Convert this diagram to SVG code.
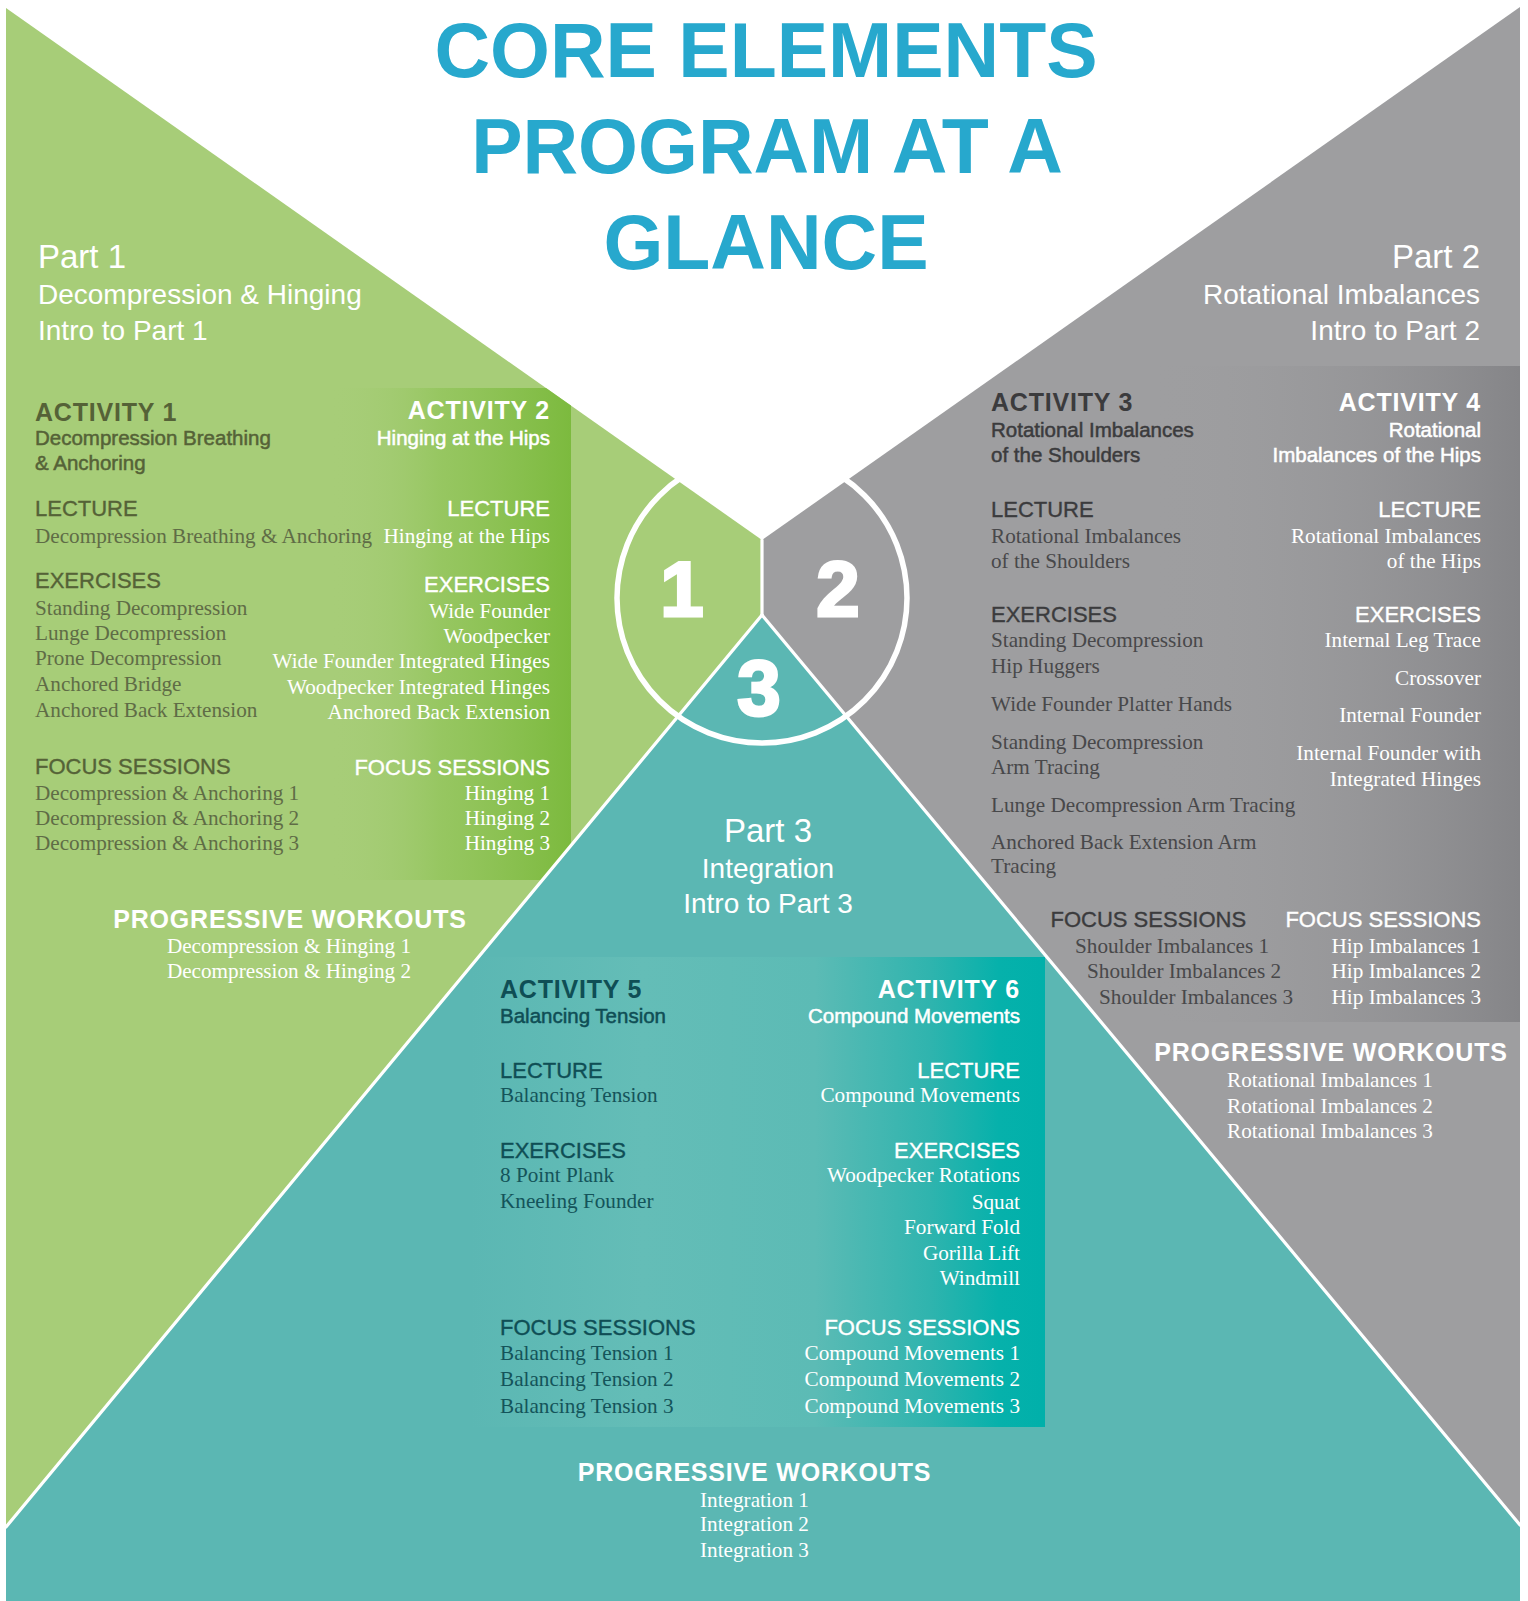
<svg xmlns="http://www.w3.org/2000/svg" width="1528" height="1601" viewBox="0 0 1528 1601">
  <style>
    text { font-family: "Liberation Sans", Arial, sans-serif; }
    .title { font-weight: bold; font-size: 77px; fill: #27a8cd; text-anchor: middle; }
    .part { font-size: 33px; fill: #ffffff; }
    .psub { font-size: 28px; fill: #ffffff; }
    .h { font-weight: bold; font-size: 25px; letter-spacing: 0.8px; }
    .sub { font-size: 20.5px; }
    .lbl { font-size: 22px; }
    .s { font-family: "Liberation Serif", "Times New Roman", serif; font-size: 21.2px; }
    .end { text-anchor: end; }
    .mid { text-anchor: middle; }
    .w { fill: #ffffff; stroke: #ffffff; stroke-width: 0; }
    .gd { fill: #556237; stroke: #556237; stroke-width: 0; }
    .gs { fill: #5f6c46; }
    .kd { fill: #3b3b3d; stroke: #3b3b3d; stroke-width: 0; }
    .ks { fill: #48484a; }
    .td { fill: #0f4e55; stroke: #0f4e55; stroke-width: 0; }
    .ts { fill: #14545a; }
    .sub.w, .sub.gd, .sub.kd, .sub.td { stroke-width: 0.5px; }
    .lbl.w, .lbl.gd, .lbl.kd, .lbl.td { stroke-width: 0.35px; }
    .num { font-weight: bold; font-size: 78px; fill: #ffffff; stroke: #ffffff; stroke-width: 3px; text-anchor: middle; }
    .divider { stroke: #ffffff; stroke-width: 3.2px; fill: none; stroke-linecap: round; }
  </style>
  <defs>
    <clipPath id="clipGreen"><polygon points="6,8 762,540 762,615 6,1527"/></clipPath>
    <clipPath id="clipGrey"><polygon points="1520,7 762,540 762,615 1520,1525"/></clipPath>
    <clipPath id="clipTeal"><polygon points="762,615 6,1527 6,1601 1520,1601 1520,1525"/></clipPath>
    <linearGradient id="gradGreen" x1="330" y1="0" x2="571" y2="0" gradientUnits="userSpaceOnUse">
      <stop offset="0" stop-color="#a7cd78" stop-opacity="0"/>
      <stop offset="0.45" stop-color="#93c55c" stop-opacity="0.8"/>
      <stop offset="1" stop-color="#7cba3e"/>
    </linearGradient>
    <linearGradient id="gradGrey" x1="1150" y1="0" x2="1520" y2="0" gradientUnits="userSpaceOnUse">
      <stop offset="0" stop-color="#9e9ea0" stop-opacity="0"/>
      <stop offset="1" stop-color="#858588"/>
    </linearGradient>
    <linearGradient id="gradTeal" x1="470" y1="0" x2="1045" y2="0" gradientUnits="userSpaceOnUse">
      <stop offset="0" stop-color="#5bb7b3"/>
      <stop offset="0.3" stop-color="#64bdb7"/>
      <stop offset="0.6" stop-color="#5cbbb5"/>
      <stop offset="0.8" stop-color="#2fb4ae"/>
      <stop offset="0.92" stop-color="#06b1ab"/>
      <stop offset="1" stop-color="#00b0aa"/>
    </linearGradient>
  </defs>

  <rect width="1528" height="1601" fill="#ffffff"/>

  <!-- three coloured sectors -->
  <g id="sectors">
    <polygon id="sector-green" points="6,8 762,540 762,615 6,1527" fill="#a7cd78"/>
    <polygon id="sector-grey" points="1520,7 762,540 762,615 1520,1525" fill="#9e9ea0"/>
    <rect x="330" y="388" width="241" height="492" fill="url(#gradGreen)" clip-path="url(#clipGreen)"/>
    <rect x="900" y="366" width="620" height="656" fill="url(#gradGrey)" clip-path="url(#clipGrey)"/>
    <polygon id="sector-teal" points="762,615 6,1527 6,1601 1520,1601 1520,1525" fill="#5bb7b3"/>
    <rect x="470" y="957" width="575" height="470" fill="url(#gradTeal)" clip-path="url(#clipTeal)"/>
  </g>

  <!-- white dividers between the sectors -->
  <g id="connectors">
    <line class="divider" x1="762" y1="540" x2="762" y2="615"/>
    <line class="divider" x1="762" y1="615" x2="6" y2="1527"/>
    <line class="divider" x1="762" y1="615" x2="1520" y2="1525"/>
  </g>

  <!-- central hub -->
  <g id="hub">
    <circle cx="762" cy="598" r="145" fill="none" stroke="#ffffff" stroke-width="5.5"/>
    <text class="num" x="682" y="616">1</text>
    <text class="num" x="838" y="616">2</text>
    <text class="num" x="759" y="715">3</text>
  </g>

  <g id="title">
    <text class="title" x="766" y="77">CORE ELEMENTS</text>
    <text class="title" x="767" y="173">PROGRAM AT A</text>
    <text class="title" x="766" y="269">GLANCE</text>
  </g>

  <g id="part1">
    <text class="part" x="38" y="268">Part 1</text>
    <text class="psub" x="38" y="304">Decompression &amp; Hinging</text>
    <text class="psub" x="38" y="340">Intro to Part 1</text>
  </g>

  <g id="part2">
    <text class="part end" x="1480" y="268">Part 2</text>
    <text class="psub end" x="1480" y="304">Rotational Imbalances</text>
    <text class="psub end" x="1480" y="340">Intro to Part 2</text>
  </g>

  <g id="part3">
    <text class="part mid" x="768" y="842">Part 3</text>
    <text class="psub mid" x="768" y="878">Integration</text>
    <text class="psub mid" x="768" y="913">Intro to Part 3</text>
  </g>

  <g id="activity1">
    <text class="h gd" x="35" y="421">ACTIVITY 1</text>
    <text class="sub gd" x="35" y="445">Decompression Breathing</text>
    <text class="sub gd" x="35" y="470">&amp; Anchoring</text>
    <text class="lbl gd" x="35" y="516">LECTURE</text>
    <text class="s gs" x="35" y="543">Decompression Breathing &amp; Anchoring</text>
    <text class="lbl gd" x="35" y="588">EXERCISES</text>
    <text class="s gs" x="35" y="615">Standing Decompression</text>
    <text class="s gs" x="35" y="640">Lunge Decompression</text>
    <text class="s gs" x="35" y="665">Prone Decompression</text>
    <text class="s gs" x="35" y="691">Anchored Bridge</text>
    <text class="s gs" x="35" y="716.5">Anchored Back Extension</text>
    <text class="lbl gd" x="35" y="774">FOCUS SESSIONS</text>
    <text class="s gs" x="35" y="800">Decompression &amp; Anchoring 1</text>
    <text class="s gs" x="35" y="825">Decompression &amp; Anchoring 2</text>
    <text class="s gs" x="35" y="850">Decompression &amp; Anchoring 3</text>
  </g>

  <g id="activity2">
    <text class="h w end" x="550" y="418.5">ACTIVITY 2</text>
    <text class="sub w end" x="550" y="445">Hinging at the Hips</text>
    <text class="lbl w end" x="550" y="516">LECTURE</text>
    <text class="s w end" x="550" y="543">Hinging at the Hips</text>
    <text class="lbl w end" x="550" y="591.5">EXERCISES</text>
    <text class="s w end" x="550" y="618">Wide Founder</text>
    <text class="s w end" x="550" y="643">Woodpecker</text>
    <text class="s w end" x="550" y="668">Wide Founder Integrated Hinges</text>
    <text class="s w end" x="550" y="694">Woodpecker Integrated Hinges</text>
    <text class="s w end" x="550" y="719">Anchored Back Extension</text>
    <text class="lbl w end" x="550" y="775">FOCUS SESSIONS</text>
    <text class="s w end" x="550" y="799.5">Hinging 1</text>
    <text class="s w end" x="550" y="825">Hinging 2</text>
    <text class="s w end" x="550" y="850">Hinging 3</text>
  </g>

  <g id="workouts1">
    <text class="h w mid" x="290" y="928">PROGRESSIVE WORKOUTS</text>
    <text class="s w mid" x="289" y="953">Decompression &amp; Hinging 1</text>
    <text class="s w mid" x="289" y="978">Decompression &amp; Hinging 2</text>
  </g>

  <g id="activity3">
    <text class="h kd" x="991" y="410.7">ACTIVITY 3</text>
    <text class="sub kd" x="991" y="436.7">Rotational Imbalances</text>
    <text class="sub kd" x="991" y="461.7">of the Shoulders</text>
    <text class="lbl kd" x="991" y="516.7">LECTURE</text>
    <text class="s ks" x="991" y="543.3">Rotational Imbalances</text>
    <text class="s ks" x="991" y="568.3">of the Shoulders</text>
    <text class="lbl kd" x="991" y="622.3">EXERCISES</text>
    <text class="s ks" x="991" y="647.3">Standing Decompression</text>
    <text class="s ks" x="991" y="673.3">Hip Huggers</text>
    <text class="s ks" x="991" y="710.7">Wide Founder Platter Hands</text>
    <text class="s ks" x="991" y="749">Standing Decompression</text>
    <text class="s ks" x="991" y="774.3">Arm Tracing</text>
    <text class="s ks" x="991" y="811.7">Lunge Decompression Arm Tracing</text>
    <text class="s ks" x="991" y="849.3">Anchored Back Extension Arm</text>
    <text class="s ks" x="991" y="873.3">Tracing</text>
    <text class="lbl kd" x="1050.5" y="926.7">FOCUS SESSIONS</text>
    <text class="s ks" x="1075" y="953.3">Shoulder Imbalances 1</text>
    <text class="s ks" x="1087" y="978.3">Shoulder Imbalances 2</text>
    <text class="s ks" x="1099" y="1004">Shoulder Imbalances 3</text>
  </g>

  <g id="activity4">
    <text class="h w end" x="1481" y="410.7">ACTIVITY 4</text>
    <text class="sub w end" x="1481" y="436.7">Rotational</text>
    <text class="sub w end" x="1481" y="461.7">Imbalances of the Hips</text>
    <text class="lbl w end" x="1481" y="516.7">LECTURE</text>
    <text class="s w end" x="1481" y="543.3">Rotational Imbalances</text>
    <text class="s w end" x="1481" y="568.3">of the Hips</text>
    <text class="lbl w end" x="1481" y="622.3">EXERCISES</text>
    <text class="s w end" x="1481" y="647.3">Internal Leg Trace</text>
    <text class="s w end" x="1481" y="685">Crossover</text>
    <text class="s w end" x="1481" y="722.3">Internal Founder</text>
    <text class="s w end" x="1481" y="760">Internal Founder with</text>
    <text class="s w end" x="1481" y="786">Integrated Hinges</text>
    <text class="lbl w end" x="1481" y="926.7">FOCUS SESSIONS</text>
    <text class="s w end" x="1481" y="953.3">Hip Imbalances 1</text>
    <text class="s w end" x="1481" y="978.3">Hip Imbalances 2</text>
    <text class="s w end" x="1481" y="1004">Hip Imbalances 3</text>
  </g>

  <g id="workouts2">
    <text class="h w mid" x="1331" y="1061">PROGRESSIVE WORKOUTS</text>
    <text class="s w mid" x="1330" y="1086.7">Rotational Imbalances 1</text>
    <text class="s w mid" x="1330" y="1112.7">Rotational Imbalances 2</text>
    <text class="s w mid" x="1330" y="1138.3">Rotational Imbalances 3</text>
  </g>

  <g id="activity5">
    <text class="h td" x="500" y="997.6">ACTIVITY 5</text>
    <text class="sub td" x="500" y="1023">Balancing Tension</text>
    <text class="lbl td" x="500" y="1078">LECTURE</text>
    <text class="s ts" x="500" y="1102.4">Balancing Tension</text>
    <text class="lbl td" x="500" y="1157.6">EXERCISES</text>
    <text class="s ts" x="500" y="1182">8 Point Plank</text>
    <text class="s ts" x="500" y="1207.8">Kneeling Founder</text>
    <text class="lbl td" x="500" y="1335">FOCUS SESSIONS</text>
    <text class="s ts" x="500" y="1360.4">Balancing Tension 1</text>
    <text class="s ts" x="500" y="1386">Balancing Tension 2</text>
    <text class="s ts" x="500" y="1412.7">Balancing Tension 3</text>
  </g>

  <g id="activity6">
    <text class="h w end" x="1020" y="997.6">ACTIVITY 6</text>
    <text class="sub w end" x="1020" y="1023">Compound Movements</text>
    <text class="lbl w end" x="1020" y="1078">LECTURE</text>
    <text class="s w end" x="1020" y="1102.4">Compound Movements</text>
    <text class="lbl w end" x="1020" y="1157.6">EXERCISES</text>
    <text class="s w end" x="1020" y="1182">Woodpecker Rotations</text>
    <text class="s w end" x="1020" y="1208.6">Squat</text>
    <text class="s w end" x="1020" y="1234">Forward Fold</text>
    <text class="s w end" x="1020" y="1259.6">Gorilla Lift</text>
    <text class="s w end" x="1020" y="1285.3">Windmill</text>
    <text class="lbl w end" x="1020" y="1335">FOCUS SESSIONS</text>
    <text class="s w end" x="1020" y="1360.4">Compound Movements 1</text>
    <text class="s w end" x="1020" y="1386">Compound Movements 2</text>
    <text class="s w end" x="1020" y="1412.7">Compound Movements 3</text>
  </g>

  <g id="workouts3">
    <text class="h w mid" x="754.5" y="1481">PROGRESSIVE WORKOUTS</text>
    <text class="s w mid" x="754.5" y="1506.7">Integration 1</text>
    <text class="s w mid" x="754.5" y="1531">Integration 2</text>
    <text class="s w mid" x="754.5" y="1556.7">Integration 3</text>
  </g>
</svg>
